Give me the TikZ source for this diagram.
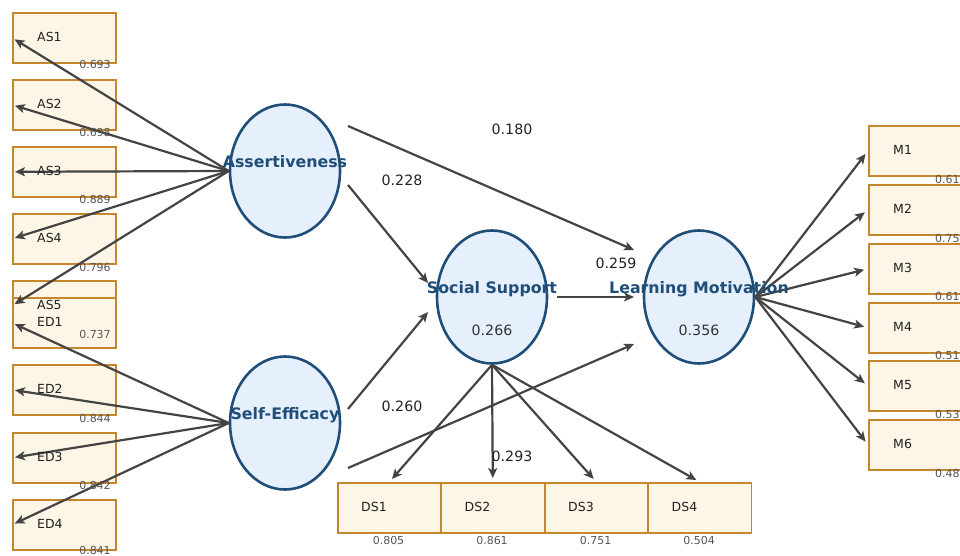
\documentclass[tikz,border=0pt]{standalone}
\usepackage{fontspec}
\setmainfont{DejaVu Sans}
\usetikzlibrary{shapes.geometric,arrows.meta}
\definecolor{latfill}{HTML}{E6F0FC}
\definecolor{latdraw}{HTML}{1F4E79}
\definecolor{boxfill}{HTML}{FDF5E6}
\definecolor{boxdraw}{HTML}{C8862C}
\definecolor{arrgray}{HTML}{444444}
\definecolor{loadtext}{HTML}{555555}
\definecolor{lbltext}{HTML}{222222}
\definecolor{r2text}{HTML}{333333}
\begin{document}
\begin{tikzpicture}[x=1pt,y=-1pt,
  ind/.style={draw=boxdraw,fill=boxfill,line width=1.6pt,minimum width=103pt,minimum height=50pt,inner sep=0pt,anchor=north west},
  lat/.style={ellipse,draw=latdraw,fill=latfill,line width=2.6pt,minimum width=110pt,minimum height=133pt,inner sep=0pt},
  arr/.style={draw=arrgray,line width=2.2pt,-{Stealth[length=10pt,width=9pt,inset=2.5pt]}},
  lbl/.style={font=\fontsize{12.5}{14}\selectfont,text=lbltext,anchor=west,inner sep=0pt,text height=9pt,text depth=0pt},
  load/.style={font=\fontsize{11}{13}\selectfont,text=loadtext,inner sep=0pt,text height=8pt,text depth=0pt},
  coef/.style={font=\fontsize{14.2}{16}\selectfont,text=lbltext,inner sep=0pt,text height=10.3pt,text depth=0pt},
  rsq/.style={font=\fontsize{14.2}{16}\selectfont,text=r2text,inner sep=0pt,text height=10.3pt,text depth=0pt},
  latlbl/.style={font=\fontsize{15.8}{18}\selectfont\bfseries,text=latdraw,inner sep=0pt,text height=11.5pt,text depth=0pt}
]
\useasboundingbox (0,0) rectangle (960,556);
\clip (0,0) rectangle (960,556);

% indicator boxes
\node[ind] (as1) at (12,12) {};
\node[ind] (as2) at (12,79) {};
\node[ind] (as3) at (12,146) {};
\node[ind] (as4) at (12,213) {};
\node[ind] (as5) at (12,280) {};
\node[ind] (ed1) at (12,297) {};
\node[ind] (ed2) at (12,364) {};
\node[ind] (ed3) at (12,432) {};
\node[ind] (ed4) at (12,499) {};
\node[ind] (m1) at (868,125) {};
\node[ind] (m2) at (868,184) {};
\node[ind] (m3) at (868,243) {};
\node[ind] (m4) at (868,302) {};
\node[ind] (m5) at (868,360) {};
\node[ind] (m6) at (868,419) {};
\node[ind] (ds1) at (337,482) {};
\node[ind] (ds2) at (440.5,482) {};
\node[ind] (ds3) at (544,482) {};
\node[ind] (ds4) at (647.5,482) {};

% latent variables
\node[lat] (AS) at (285,171) {};
\node[lat] (SE) at (285,423) {};
\node[lat] (SS) at (492,297) {};
\node[lat] (LM) at (699,297) {};

% measurement arrows
\foreach \b in {as1,as2,as3,as4,as5}{\draw[arr,shorten >=3pt] (AS.west) -- (\b.west);}
\foreach \b in {ed1,ed2,ed3,ed4}{\draw[arr,shorten >=3pt] (SE.west) -- (\b.west);}
\foreach \b in {m1,m2,m3,m4,m5,m6}{\draw[arr,shorten >=4pt] (LM.east) -- (\b.west);}
\foreach \b in {ds1,ds2,ds3,ds4}{\draw[arr,shorten >=4pt] (SS.south) -- (\b.north);}

% structural paths
\coordinate (p1s) at (348,185); \coordinate (p1e) at (428,283);
\coordinate (p2s) at (348,126); \coordinate (p2e) at (634,250);
\coordinate (p3s) at (348,409); \coordinate (p3e) at (428,312);
\coordinate (p4s) at (348,468); \coordinate (p4e) at (634,344);
\coordinate (p5s) at (557,297); \coordinate (p5e) at (634,297);
\draw[arr] (p1s) -- (p1e);
\draw[arr] (p2s) -- (p2e);
\draw[arr] (p3s) -- (p3e);
\draw[arr] (p4s) -- (p4e);
\draw[arr] (p5s) -- (p5e);

% indicator labels
\node[lbl] (tas1) at (37,37) {AS1};
\node[lbl] (tas2) at (37,104) {AS2};
\node[lbl] (tas3) at (37,171) {AS3};
\node[lbl] (tas4) at (37,238) {AS4};
\node[lbl] (tas5) at (37,305) {AS5};
\node[lbl] (ted1) at (37,322) {ED1};
\node[lbl] (ted2) at (37,389) {ED2};
\node[lbl] (ted3) at (37,457) {ED3};
\node[lbl] (ted4) at (37,524) {ED4};
\node[lbl] (tm1) at (893,150) {M1};
\node[lbl] (tm2) at (893,209) {M2};
\node[lbl] (tm3) at (893,268) {M3};
\node[lbl] (tm4) at (893,327) {M4};
\node[lbl] (tm5) at (893,385) {M5};
\node[lbl] (tm6) at (893,444) {M6};
\node[lbl] (tds1) at (361,507) {DS1};
\node[lbl] (tds2) at (464.5,507) {DS2};
\node[lbl] (tds3) at (568,507) {DS3};
\node[lbl] (tds4) at (671.5,507) {DS4};

% loadings
\node[load] (las1) at (95,65) {0.693};
\node[load] (las2) at (95,133) {0.698};
\node[load] (las3) at (95,200) {0.889};
\node[load] (las4) at (95,267) {0.796};
\node[load] (las5) at (95,334) {0.737};
\node[load] (led2) at (95,418) {0.844};
\node[load] (led3) at (95,485) {0.842};
\node[load] (led4) at (95,550.5) {0.841};
\node[load,anchor=west] (lm1) at (935,179) {0.61};
\node[load,anchor=west] (lm2) at (935,238) {0.75};
\node[load,anchor=west] (lm3) at (935,296) {0.61};
\node[load,anchor=west] (lm4) at (935,355) {0.51};
\node[load,anchor=west] (lm5) at (935,414) {0.53};
\node[load,anchor=west] (lm6) at (935,473) {0.48};
\node[load] (lds1) at (388.5,540) {0.805};
\node[load] (lds2) at (492,540) {0.861};
\node[load] (lds3) at (595.5,540) {0.751};
\node[load] (lds4) at (699,540) {0.504};

% path coefficients
\node[coef] (c1) at (512,129) {0.180};
\node[coef] (c2) at (402,180) {0.228};
\node[coef] (c3) at (616,263) {0.259};
\node[coef] (c4) at (402,406) {0.260};
\node[coef] (c5) at (512,456) {0.293};

% latent labels
\node[latlbl] (tAS) at (285,162) {Assertiveness};
\node[latlbl] (tSE) at (285,414) {Self-Efficacy};
\node[latlbl] (tSS) at (492,288) {Social Support};
\node[latlbl] (tLM) at (699,288) {Learning Motivation};
\node[rsq] (rSS) at (492,330) {0.266};
\node[rsq] (rLM) at (699,330) {0.356};
\end{tikzpicture}
\end{document}
